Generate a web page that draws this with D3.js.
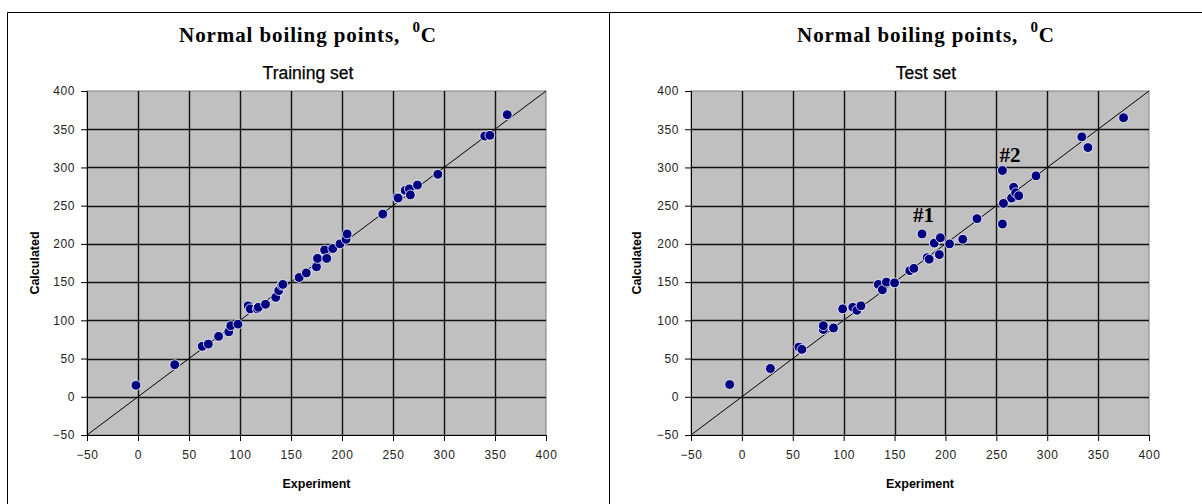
<!DOCTYPE html>
<html>
<head>
<meta charset="utf-8">
<script src="https://cdn.jsdelivr.net/npm/d3@7"></script>
<style>
  body { margin: 0; background: #fff; }
  svg { display: block; }
</style>
</head>
<body>
<div id="chart"></div>
<script>
// data: experiment vs calculated boiling points
let trainExp  = [-2, 36, 63, 69, 79, 89, 91, 98, 108, 110, 117, 118, 125, 135, 138, 141, 142, 158, 165, 175, 176, 183, 185, 191, 198, 204, 205, 240, 254, 255, 262, 266, 267, 274, 294, 340, 345, 362];
let trainCalc = [15, 42, 66, 69, 79, 85, 93, 95, 119, 115, 115, 117, 121, 130, 139, 146, 147, 156, 162, 170, 181, 192, 181, 194, 200, 206, 213, 239, 261, 260, 270, 272, 264, 277, 291, 341, 342, 369];

let testExp  = [-12, 28, 56, 59, 80, 80, 90, 99, 109, 113, 117, 134, 138, 142, 150, 165, 169, 177, 182, 184, 189, 194, 195, 204, 217, 231, 256, 256, 257, 265, 267, 269, 272, 289, 334, 340, 375];
let testCalc = [16, 37, 65, 62, 88, 93, 90, 115, 117, 113, 119, 147, 140, 150, 149, 165, 168, 213, 182, 180, 201, 186, 208, 200, 206, 233, 296, 226, 253, 260, 274, 267, 263, 289, 340, 326, 365];

let ticks = [-50, 0, 50, 100, 150, 200, 250, 300, 350, 400];
let titleText = "Normal boiling points,";
let subtitles = ["Training set", "Test set"];
let xLabel = "Experiment";
let yLabel = "Calculated";
// outlier labels on the test set
let notes = [{text: "#1", x: 168, y: 228}, {text: "#2", x: 253, y: 307}];

let W = 1202, H = 504;
let plotTop = 91, plotBottom = 435;

let svg = d3.select("#chart")
  .append("svg")
    .attr("width", W)
    .attr("height", H);

// panel frames
svg.append("path")
  .attr("d", "M7.5," + H + "V12.5H1202 M609.5,12.5V" + H)
  .attr("fill", "none")
  .attr("stroke", "#000")
  .attr("stroke-width", 1);

function drawPanel(px0, px1, panelCx, labelX, sub, xs, ys, labels) {
  let x = d3.scaleLinear().domain([-50, 400]).range([px0, px1]);
  let y = d3.scaleLinear().domain([-50, 400]).range([plotBottom, plotTop]);
  let g = svg.append("g");

  // title with superscript
  let t = g.append("text")
    .attr("x", panelCx)
    .attr("y", 42)
    .attr("text-anchor", "middle")
    .attr("font-family", "Liberation Serif, Times New Roman, serif")
    .attr("font-weight", "bold")
    .attr("font-size", 21)
    .attr("letter-spacing", 0.9)
    .attr("fill", "#000");
  t.append("tspan").text(titleText + "\u00a0\u00a0");
  t.append("tspan").attr("font-size", 15).attr("dy", -10).text("0");
  t.append("tspan").attr("dy", 10).text("C");

  g.append("text")
    .attr("x", panelCx)
    .attr("y", 79)
    .attr("text-anchor", "middle")
    .attr("font-family", "Liberation Sans, Arial, sans-serif")
    .attr("font-size", 17.5)
    .attr("fill", "#000")
    .attr("stroke", "#000")
    .attr("stroke-width", 0.25)
    .text(sub);

  // plot area
  g.append("rect")
    .attr("x", x(-50)).attr("y", y(400))
    .attr("width", x(400) - x(-50)).attr("height", y(-50) - y(400))
    .attr("fill", "#c0c0c0")
    .attr("stroke", "#808080");

  // gridlines
  g.append("g").selectAll("line.v")
    .data(ticks.filter(d => d > -50 && d < 400))
    .enter().append("line")
      .attr("x1", d => Math.round(x(d)) + 0.5).attr("x2", d => Math.round(x(d)) + 0.5)
      .attr("y1", y(400)).attr("y2", y(-50))
      .attr("stroke", "#111").attr("stroke-width", 1.4);
  g.append("g").selectAll("line.h")
    .data(ticks.filter(d => d > -50 && d < 400))
    .enter().append("line")
      .attr("y1", d => Math.round(y(d)) + 0.5).attr("y2", d => Math.round(y(d)) + 0.5)
      .attr("x1", x(-50)).attr("x2", x(400))
      .attr("stroke", "#111").attr("stroke-width", 1.4);

  // axes
  let xa = g.append("g")
    .attr("transform", "translate(0," + y(-50) + ")")
    .call(d3.axisBottom(x).tickValues(ticks).tickSize(6).tickPadding(9));
  let ya = g.append("g")
    .attr("transform", "translate(" + x(-50) + ",0)")
    .call(d3.axisLeft(y).tickValues(ticks).tickSize(6).tickPadding(6));
  [xa, ya].forEach(a => {
    a.selectAll("text")
      .attr("font-family", "Liberation Sans, Arial, sans-serif")
      .attr("font-size", 12)
      .attr("letter-spacing", 0.6)
      .attr("fill", "#222");
    a.selectAll("line, path").attr("stroke", "#000");
  });

  // y = x line
  g.append("line")
    .attr("x1", x(-50)).attr("y1", y(-50))
    .attr("x2", x(400)).attr("y2", y(400))
    .attr("stroke", "#000").attr("stroke-width", 1);

  // points
  g.append("g").selectAll("circle")
    .data(xs.map((d, i) => [d, ys[i]]))
    .enter().append("circle")
      .attr("cx", d => x(d[0]))
      .attr("cy", d => y(d[1]))
      .attr("r", 4.9)
      .attr("fill", "#000080")
      .attr("stroke", "#fff")
      .attr("stroke-width", 0.8);

  labels.forEach(n => {
    g.append("text")
      .attr("x", x(n.x)).attr("y", y(n.y))
      .attr("font-family", "Liberation Serif, Times New Roman, serif")
      .attr("font-weight", "bold")
      .attr("font-size", 21)
      .attr("fill", "#000")
      .text(n.text);
  });

  // axis titles
  g.append("text")
    .attr("x", (px0 + px1) / 2)
    .attr("y", 488)
    .attr("text-anchor", "middle")
    .attr("font-family", "Liberation Sans, Arial, sans-serif")
    .attr("font-weight", "bold")
    .attr("font-size", 12.5)
    .text(xLabel);
  g.append("text")
    .attr("transform", "translate(" + labelX + "," + (plotTop + plotBottom) / 2 + ") rotate(-90)")
    .attr("text-anchor", "middle")
    .attr("font-family", "Liberation Sans, Arial, sans-serif")
    .attr("font-weight", "bold")
    .attr("font-size", 12.5)
    .text(yLabel);
}

drawPanel(87, 546, 308, 39, subtitles[0], trainExp, trainCalc, []);
drawPanel(691, 1149, 926, 641, subtitles[1], testExp, testCalc, notes);
</script>
</body>
</html>
